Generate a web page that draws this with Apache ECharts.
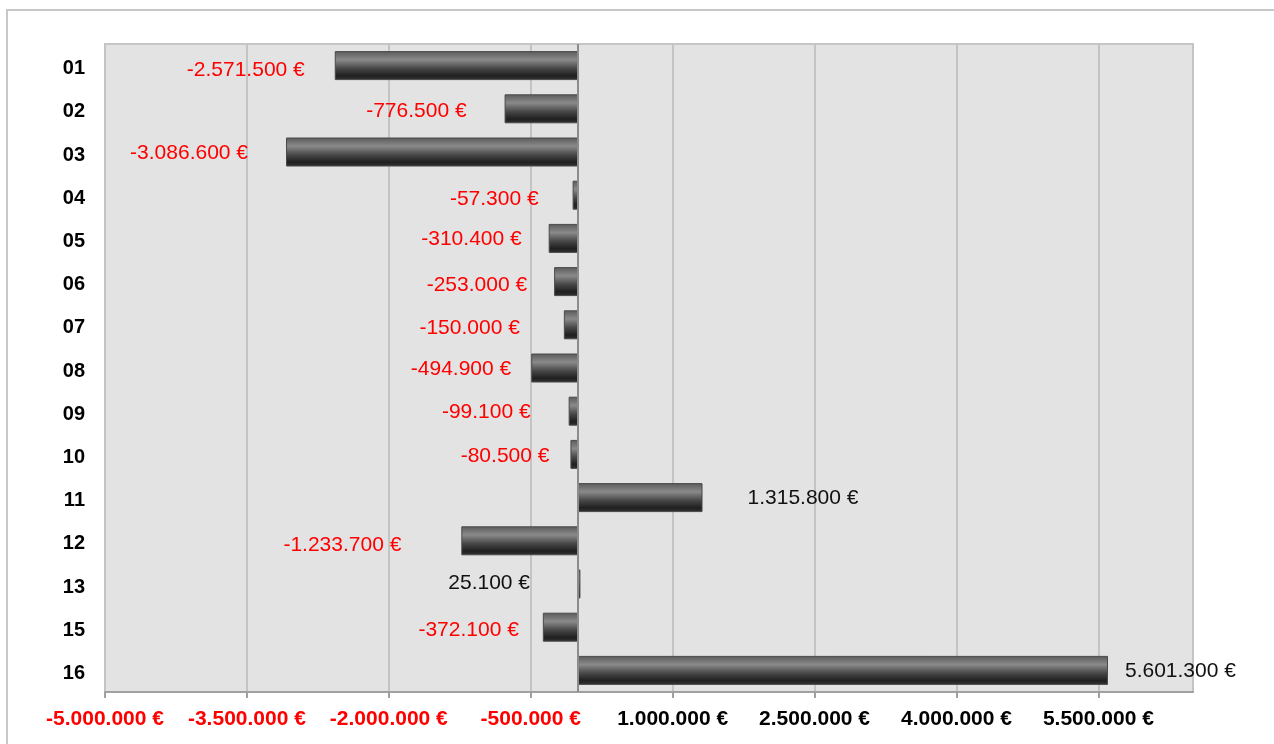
<!DOCTYPE html>
<html>
<head>
<meta charset="utf-8" />
<title>Saldo</title>
<script src="https://cdn.jsdelivr.net/npm/echarts@6.0.0/dist/echarts.min.js"></script>
<style>
  html,
  body {
    margin: 0;
    padding: 0;
    background: #fff;
  }
  #chart {
    width: 1274px;
    height: 744px;
  }
</style>
</head>
<body>
<div id="chart"></div>
<script>
// data
var categories = ["01", "02", "03", "04", "05", "06", "07", "08", "09", "10", "11", "12", "13", "15", "16"];
var values = [-2571500, -776500, -3086600, -57300, -310400, -253000, -150000, -494900, -99100, -80500, 1315800, -1233700, 25100, -372100, 5601300];
var axisMin = -5000000;
var axisMax = 6500000;
var axisStep = 1500000;

// label nudges, the labels were dragged around by hand in the original sheet
var labelGap = [30, 38, 38, 34, 27, 27, 44, 20, 38, 21, 45, 60, 48, 24, 17];
var labelDy = [5, 2, 1, 4, 1, 4, 3, 1, 1, 2, 1, 4, -1, 3, 1];

function euro(v) {
  var s = Math.abs(v).toString().replace(/\B(?=(\d{3})+(?!\d))/g, ".");
  return (v < 0 ? "-" : "") + s + " €";
}

var chart = echarts.init(document.getElementById("chart"));

var barData = values.map(function (v, i) {
  // 13 has its label on the left of the bar
  var left = v < 0 || categories[i] === "13";
  return {
    value: v,
    label: {
      position: left ? "left" : "right",
      distance: labelGap[i],
      offset: [0, labelDy[i]],
      color: v < 0 ? "#ff0000" : "#111",
    },
  };
});

var option = {
  animation: false,
  backgroundColor: "#fff",
  graphic: [
    {
      type: "rect",
      shape: { x: 7, y: 10, width: 1300, height: 800 },
      style: { fill: "none", stroke: "#c8c8c8", lineWidth: 2 },
      silent: true,
    },
  ],
  grid: {
    left: 105,
    right: 81,
    top: 44,
    bottom: 52,
    show: true,
    backgroundColor: "#e3e3e3",
    borderColor: "#c6c6c6",
    borderWidth: 2,
  },
  xAxis: {
    type: "value",
    min: axisMin,
    max: axisMax,
    interval: axisStep,
    axisLine: { show: true, onZero: false, lineStyle: { color: "#a0a0a0", width: 2 } },
    axisTick: { show: true, length: 6, lineStyle: { color: "#a0a0a0", width: 2 } },
    splitLine: { show: true, lineStyle: { color: "#c4c4c4", width: 2 } },
    axisLabel: {
      margin: 17,
      showMaxLabel: false,
      fontFamily: "Liberation Sans, Arial, sans-serif",
      fontSize: 21,
      fontWeight: "bold",
      color: function (v) {
        return v < 0 ? "#ff0000" : "#000";
      },
      formatter: euro,
    },
  },
  yAxis: {
    type: "category",
    inverse: true,
    data: categories,
    axisLine: { show: false },
    axisTick: { show: false },
    axisLabel: {
      margin: 20,
      formatter: function (v) {
        return "{c|" + v + "}";
      },
      rich: {
        c: {
          padding: [6, 0, 0, 0],
          fontFamily: "Liberation Sans, Arial, sans-serif",
          fontSize: 20,
          fontWeight: "bold",
          color: "#000",
        },
      },
    },
  },
  series: [
    {
      type: "bar",
      barWidth: 29,
      data: barData,
      itemStyle: {
        borderColor: "#4a4a4a",
        borderWidth: 1,
        color: new echarts.graphic.LinearGradient(0, 0, 0, 1, [
          { offset: 0, color: "#5a5a5a" },
          { offset: 0.3, color: "#8a8a8a" },
          { offset: 0.6, color: "#474747" },
          { offset: 0.85, color: "#202020" },
          { offset: 1, color: "#333" },
        ]),
      },
      label: {
        show: true,
        fontFamily: "Liberation Sans, Arial, sans-serif",
        fontSize: 21,
        formatter: function (p) {
          return euro(p.value);
        },
      },
      markLine: {
        silent: true,
        symbol: "none",
        label: { show: false },
        lineStyle: { color: "#8c8c8c", width: 2, type: "solid" },
        data: [{ xAxis: 0 }],
      },
    },
  ],
};

chart.setOption(option);
</script>
</body>
</html>
